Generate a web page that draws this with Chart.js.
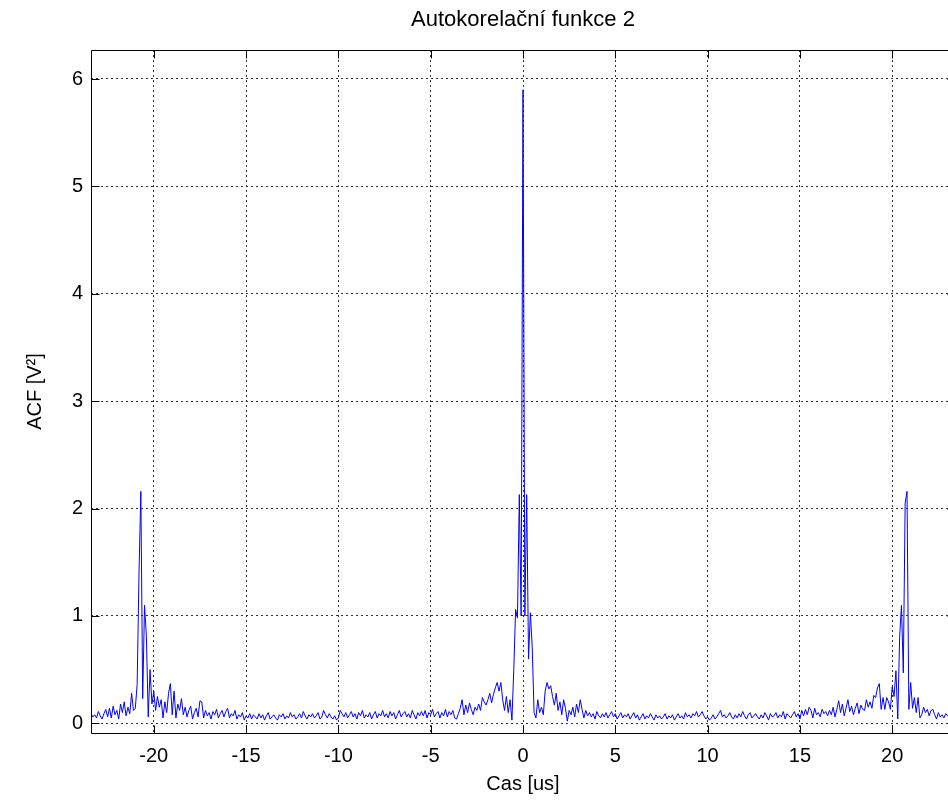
<!DOCTYPE html>
<html>
<head>
<meta charset="utf-8">
<title>Autokorelační funkce 2</title>
<script src="https://cdn.jsdelivr.net/npm/chart.js@4/dist/chart.umd.min.js"></script>
<style>
    html, body { margin: 0; padding: 0; background: #fff; overflow: hidden; }
    #wrap { width: 1046px; height: 803px; }
</style>
</head>
<body>
<div id="wrap"><canvas id="acfChart" width="1046" height="803"></canvas></div>
<script>
// casova osa: -23.4 us az 23.4 us, krok 0.1 us
const lagStart = -23.4;
const lagStep = 0.1;

// hodnoty ACF [V^2], jeden radek = 1 us
const acfValues = [
    0.09, 0.06, 0.08, 0.05, 0.11, 0.07, 0.04, 0.09, 0.13, 0.06,
    0.14, 0.05, 0.16, 0.08, 0.12, 0.04, 0.18, 0.10, 0.20, 0.07,
    0.15, 0.09, 0.28, 0.12, 0.14, 0.36, 1.40, 2.16, 0.23, 1.10,
    0.81, 0.06, 0.50, 0.18, 0.30, 0.12, 0.25, 0.15, 0.22, 0.05,
    0.20, 0.10, 0.28, 0.37, 0.08, 0.30, 0.05, 0.18, 0.12, 0.23,
    0.08, 0.15, 0.06, 0.12, 0.16, 0.04, 0.10, 0.14, 0.06, 0.21,
    0.20, 0.05, 0.12, 0.07, 0.10, 0.04, 0.11, 0.08, 0.13, 0.05,
    0.09, 0.12, 0.06, 0.11, 0.14, 0.05, 0.09, 0.07, 0.12, 0.04,
    0.08, 0.06, 0.10, 0.03, 0.07, 0.05, 0.09, 0.04, 0.08, 0.06,
    0.04, 0.09, 0.05, 0.08, 0.03, 0.07, 0.10, 0.04, 0.06, 0.08,
    0.05, 0.03, 0.08, 0.06, 0.09, 0.04, 0.07, 0.05, 0.10, 0.06,
    0.08, 0.04, 0.06, 0.09, 0.05, 0.11, 0.07, 0.04, 0.08, 0.06,
    0.09, 0.05, 0.07, 0.10, 0.04, 0.06, 0.12, 0.08, 0.05, 0.09,
    0.06, 0.04, 0.07, 0.03, 0.05, 0.12, 0.09, 0.06, 0.10, 0.05,
    0.08, 0.11, 0.06, 0.09, 0.04, 0.10, 0.07, 0.12, 0.05, 0.08,
    0.06, 0.10, 0.04, 0.08, 0.11, 0.05, 0.09, 0.07, 0.12, 0.06,
    0.09, 0.05, 0.11, 0.07, 0.10, 0.04, 0.08, 0.12, 0.06, 0.09,
    0.11, 0.06, 0.09, 0.05, 0.12, 0.08, 0.04, 0.10, 0.07, 0.11,
    0.07, 0.12, 0.05, 0.10, 0.08, 0.13, 0.06, 0.09, 0.11, 0.05,
    0.10, 0.07, 0.13, 0.06, 0.11, 0.08, 0.12, 0.05, 0.04, 0.09,
    0.14, 0.22, 0.08, 0.17, 0.10, 0.19, 0.13, 0.08, 0.15, 0.12,
    0.18, 0.12, 0.24, 0.20, 0.17, 0.22, 0.28, 0.19, 0.27, 0.33,
    0.38, 0.30, 0.38, 0.22, 0.12, 0.25, 0.10, 0.22, 0.03, 0.50,
    1.06, 0.98, 2.13, 1.00, 5.90, 1.00, 2.13, 0.60, 1.03, 0.71,
    0.10, 0.05, 0.22, 0.10, 0.15, 0.08, 0.30, 0.38, 0.32, 0.35,
    0.25, 0.17, 0.28, 0.12, 0.20, 0.08, 0.22, 0.14, 0.02, 0.12,
    0.08, 0.15, 0.06, 0.18, 0.10, 0.22, 0.13, 0.05, 0.12, 0.07,
    0.10, 0.06, 0.09, 0.04, 0.11, 0.07, 0.05, 0.09, 0.06, 0.10,
    0.05, 0.08, 0.11, 0.06, 0.09, 0.04, 0.07, 0.10, 0.05, 0.08,
    0.06, 0.09, 0.04, 0.07, 0.10, 0.05, 0.08, 0.03, 0.06, 0.09,
    0.04, 0.07, 0.05, 0.09, 0.06, 0.03, 0.08, 0.05, 0.07, 0.04,
    0.06, 0.09, 0.04, 0.07, 0.05, 0.08, 0.03, 0.06, 0.09, 0.05,
    0.07, 0.04, 0.10, 0.06, 0.08, 0.05, 0.09, 0.07, 0.11, 0.06,
    0.08, 0.11, 0.07, 0.04, 0.06, 0.03, 0.05, 0.08, 0.04, 0.06,
    0.09, 0.12, 0.06, 0.08, 0.05, 0.07, 0.10, 0.06, 0.04, 0.08,
    0.05, 0.09, 0.06, 0.11, 0.07, 0.04, 0.08, 0.10, 0.05, 0.07,
    0.09, 0.06, 0.04, 0.08, 0.05, 0.10, 0.07, 0.03, 0.09, 0.06,
    0.07, 0.10, 0.05, 0.08, 0.06, 0.11, 0.04, 0.09, 0.07, 0.05,
    0.08, 0.11, 0.06, 0.09, 0.04, 0.12, 0.07, 0.13, 0.08, 0.15,
    0.12, 0.05, 0.14, 0.08, 0.10, 0.06, 0.13, 0.09, 0.11, 0.07,
    0.12, 0.08, 0.15, 0.06, 0.13, 0.21, 0.10, 0.18, 0.07, 0.14,
    0.22, 0.11, 0.16, 0.08, 0.14, 0.19, 0.09, 0.17, 0.13, 0.12,
    0.22, 0.15, 0.20, 0.14, 0.26, 0.24, 0.33, 0.37, 0.13, 0.24,
    0.13, 0.24, 0.20, 0.13, 0.34, 0.25, 0.49, 0.04, 0.80, 1.10,
    0.47, 2.05, 2.16, 0.13, 0.38, 0.14, 0.24, 0.10, 0.24, 0.05,
    0.08, 0.15, 0.10, 0.13, 0.07, 0.12, 0.13, 0.08, 0.04, 0.10,
    0.06, 0.08, 0.05, 0.09, 0.07, 0.05, 0.06, 0.08, 0.06
];

const xTicks = [-20, -15, -10, -5, 0, 5, 10, 15, 20];
const yTicks = [0, 1, 2, 3, 4, 5, 6];

const chartTitle = 'Autokorelační funkce 2';
const xLabel = 'Cas [us]';
const yLabel = 'ACF [V²]';

const fontFamily = "'Liberation Sans', Arial, Helvetica, sans-serif";

const points = acfValues.map((v, i) => ({
    x: Math.round((lagStart + i * lagStep) * 10) / 10,
    y: v
}));

// ramecek grafu a tick znacky dovnitr (jako v MATLABu)
const matlabBox = {
    id: 'matlabBox',
    afterDraw(chart) {
        const ctx = chart.ctx;
        const a = chart.chartArea;
        const xs = chart.scales.x;
        const ys = chart.scales.y;
        const L = Math.round(a.left) + 0.5;
        const R = Math.round(a.right) + 0.5;
        const T = Math.round(a.top) + 0.5;
        const B = Math.round(a.bottom) + 0.5;
        const len = 8;
        ctx.save();
        ctx.strokeStyle = '#000';
        ctx.lineWidth = 1;
        ctx.setLineDash([]);
        ctx.beginPath();
        ctx.rect(L, T, R - L, B - T);
        xTicks.forEach(t => {
            const px = Math.round(xs.getPixelForValue(t)) + 0.5;
            ctx.moveTo(px, B); ctx.lineTo(px, B - len);
            ctx.moveTo(px, T); ctx.lineTo(px, T + len);
        });
        yTicks.forEach(t => {
            const py = Math.round(ys.getPixelForValue(t)) + 0.5;
            ctx.moveTo(L, py); ctx.lineTo(L + len, py);
            ctx.moveTo(R, py); ctx.lineTo(R - len, py);
        });
        ctx.stroke();
        ctx.restore();
    }
};

const ctx = document.getElementById('acfChart').getContext('2d');
new Chart(ctx, {
    type: 'line',
    data: {
        datasets: [{
            data: points,
            borderColor: '#0000ff',
            borderWidth: 1,
            pointRadius: 0,
            tension: 0,
            fill: false
        }]
    },
    options: {
        responsive: false,
        animation: false,
        devicePixelRatio: 1,
        layout: { padding: 0 },
        plugins: {
            legend: { display: false },
            tooltip: { enabled: false },
            title: {
                display: true,
                text: chartTitle,
                color: '#000',
                font: { family: fontFamily, size: 22, weight: 'normal' },
                padding: { top: 7, bottom: 16.6 }
            }
        },
        scales: {
            x: {
                type: 'linear',
                min: -23.4,
                max: 23.4,
                afterBuildTicks: scale => { scale.ticks = xTicks.map(v => ({ value: v })); },
                afterFit: scale => { scale.height = 70; },
                ticks: {
                    color: '#000',
                    font: { family: fontFamily, size: 20 },
                    padding: 11,
                    maxRotation: 0,
                    includeBounds: false
                },
                grid: { color: '#333', lineWidth: 1, drawTicks: false },
                border: { display: false, dash: [2, 3] },
                title: {
                    display: true,
                    text: xLabel,
                    color: '#000',
                    font: { family: fontFamily, size: 20 },
                    padding: { top: 0, bottom: 7 }
                }
            },
            y: {
                type: 'linear',
                min: -0.09,
                max: 6.27,
                afterBuildTicks: scale => { scale.ticks = yTicks.map(v => ({ value: v })); },
                afterFit: scale => { scale.width = 91; },
                ticks: {
                    color: '#000',
                    font: { family: fontFamily, size: 20 },
                    padding: 8,
                    includeBounds: false
                },
                grid: { color: '#333', lineWidth: 1, drawTicks: false },
                border: { display: false, dash: [2, 3] },
                title: {
                    display: true,
                    text: yLabel,
                    color: '#000',
                    font: { family: fontFamily, size: 20 },
                    padding: { top: 23, bottom: 0 }
                }
            },
            // prazdna prava osa, aby byl nadpis vystredeny nad grafem
            yRight: {
                type: 'linear',
                position: 'right',
                min: -0.09,
                max: 6.27,
                afterFit: scale => { scale.width = 91; },
                ticks: { display: false },
                grid: { display: false },
                border: { display: false }
            }
        }
    },
    plugins: [matlabBox]
});
</script>
</body>
</html>
